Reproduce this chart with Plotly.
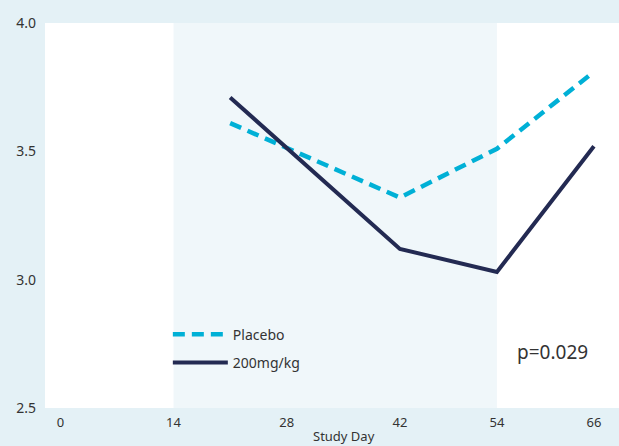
import plotly.graph_objects as go

days = [21, 42, 54, 66]
placebo = [3.61, 3.32, 3.51, 3.81]
dose200 = [3.71, 3.12, 3.03, 3.52]
x_ticks = [0, 14, 28, 42, 54, 66]
y_ticks = [2.5, 3.0, 3.5, 4.0]
shade_start, shade_end = 14, 54
p_text = "p=0.029"
x_title = "Study Day"

fig = go.Figure()
fig.add_trace(go.Scatter(x=days, y=placebo, mode="lines", name="Placebo",
                         legendgroup="a",
                         line=dict(color="#00b0d6", width=4.5, dash="12px,7px")))
fig.add_trace(go.Scatter(x=days, y=dose200, mode="lines", name="200mg/kg",
                         legendgroup="b",
                         line=dict(color="#232a52", width=4)))

fig.add_shape(type="rect", xref="x", yref="paper", x0=shade_start, x1=shade_end,
              y0=0, y1=1, fillcolor="#f0f7fa", line=dict(width=0), layer="below")

fig.add_annotation(x=0.885, y=0.146, xref="paper", yref="paper", text=p_text,
                   showarrow=False, xanchor="center", yanchor="middle",
                   font=dict(family="Noto Sans", size=19, color="#333333"))
fig.add_annotation(x=0.521, y=-0.074, xref="paper", yref="paper", text=x_title,
                   showarrow=False, xanchor="center", yanchor="middle",
                   font=dict(family="Noto Sans", size=13, color="#333333"))

fig.update_layout(
    width=619, height=446,
    margin=dict(l=45, r=0, t=23, b=38),
    paper_bgcolor="#e4f1f6",
    plot_bgcolor="#ffffff",
    font=dict(family="Noto Sans", size=13, color="#333333"),
    showlegend=True,
    legend=dict(x=0.214, y=0.232, xanchor="left", yanchor="top",
                bgcolor="rgba(0,0,0,0)", itemwidth=55,
                tracegroupgap=7, traceorder="grouped",
                font=dict(family="Noto Sans", size=14, color="#333333")),
    xaxis=dict(range=[-1.9, 69.1], tickvals=x_ticks, showgrid=False, zeroline=False,
               showline=False, ticks="", tickfont=dict(size=13), automargin=False,
               ticklabelstandoff=5),
    yaxis=dict(range=[2.5, 4.0], tickvals=y_ticks, tickformat=".1f",
               showgrid=False, zeroline=False, showline=False, ticks="",
               tickfont=dict(size=14), automargin=False, ticklabelstandoff=8),
)

fig.write_html("out.html", config={"displayModeBar": False},
               post_script="document.body.style.margin='0';document.body.style.padding='0';")
